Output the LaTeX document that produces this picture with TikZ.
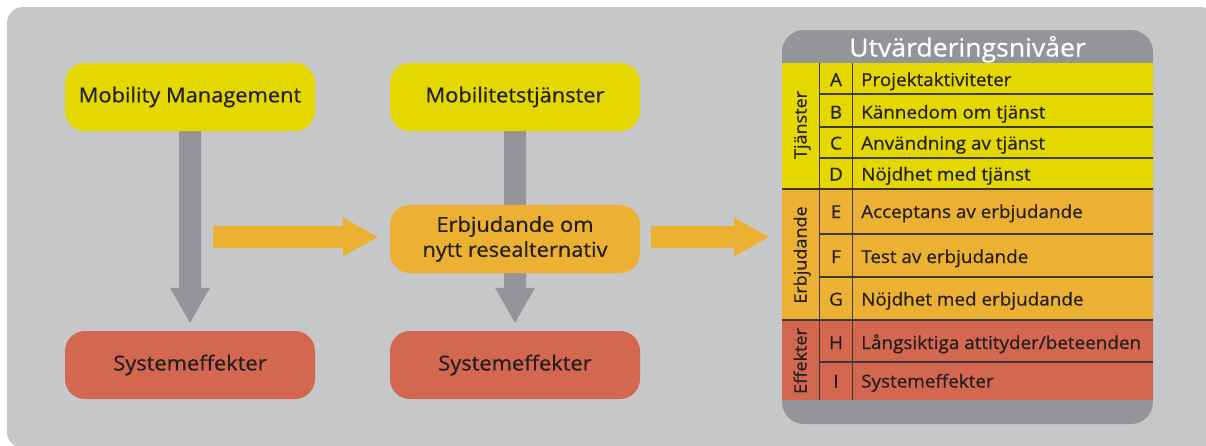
\documentclass[tikz,border=0pt]{standalone}
\usepackage{fontspec}
\setmainfont{Open Sans}[FakeStretch=1.06, FakeBold=0.6]
\usetikzlibrary{calc}
\definecolor{bggray}{HTML}{C6C7C9}
\definecolor{argray}{HTML}{939598}
\definecolor{yelc}{HTML}{E5D700}
\definecolor{orac}{HTML}{ECB032}
\definecolor{redc}{HTML}{D3674F}
\definecolor{ink}{HTML}{231F20}
\definecolor{rulec}{HTML}{3C3A36}
\pgfdeclarelayer{bg}
\pgfsetlayers{bg,main}
% vertical block arrow: colour, start, tip
\newcommand\vblockarrow[3]{%
  \fill[#1] ($(#2)+(-11,0)$) -- ($(#2)+(11,0)$) -- ($(#3)+(11,-35)$) -- ($(#3)+(20,-35)$)
    -- (#3) -- ($(#3)+(-20,-35)$) -- ($(#3)+(-11,-35)$) -- cycle;}
% horizontal block arrow: colour, start, tip
\newcommand\hblockarrow[3]{%
  \fill[#1] ($(#2)+(0,-11)$) -- ($(#3)+(-35,-11)$) -- ($(#3)+(-35,-19.5)$) -- (#3)
    -- ($(#3)+(-35,19.5)$) -- ($(#3)+(-35,11)$) -- ($(#2)+(0,11)$) -- cycle;}
\begin{document}
\begin{tikzpicture}[x=1pt,y=-1pt,
  box/.style={rounded corners=20pt, minimum width=250pt, minimum height=68pt,
    inner sep=0pt, text=ink, font=\fontsize{20.6}{25}\selectfont, align=center},
  rowtext/.style={text=ink, font=\fontsize{17.8}{20}\selectfont, inner sep=0pt},
  grouptext/.style={text=ink, font=\fontsize{17}{20}\selectfont, inner sep=0pt, rotate=90, anchor=base},
  rowrule/.style={draw=rulec, line width=1.1pt},
  headtext/.style={text=white, font=\fontsize{25.1}{28}\selectfont, inner sep=0pt, anchor=base}]
\useasboundingbox (0,0) rectangle (1206,445);
\begin{pgfonlayer}{bg}
  \fill[bggray, rounded corners=16pt] (7,7) rectangle (1216,448);
\end{pgfonlayer}

% boxes
\node[box, fill=yelc] (mm) at (190,97) {Mobility Management};
\node[box, fill=yelc] (mob) at (515,97) {Mobilitetstjänster};
\node[box, fill=orac] (erb) at (515,239) {Erbjudande om\\nytt resealternativ};
\node[box, fill=redc] (se1) at (190,365) {Systemeffekter};
\node[box, fill=redc] (se2) at (515,365) {Systemeffekter};

% gray arrows (behind boxes)
\coordinate (t1) at ([yshift=8pt]se1.north);
\coordinate (t2) at ([yshift=8pt]se2.north);
\begin{pgfonlayer}{bg}
  \vblockarrow{argray}{mm.south}{t1}
  \vblockarrow{argray}{mob.south}{t2}
\end{pgfonlayer}

% orange arrows
\coordinate (oa) at (213,237);
\coordinate (oatip) at ([xshift=-12pt,yshift=2pt]erb.west);
\hblockarrow{orac}{oa}{oatip}
\coordinate (obstart) at ([xshift=11pt,yshift=2pt]erb.east);
\coordinate (tab) at (769,237);
\hblockarrow{orac}{obstart}{tab}

% table
\fill[argray, rounded corners=22pt] (782,30) rectangle (1153,424);
\fill[yelc] (782,63) rectangle (1153,189);
\fill[orac] (782,189) rectangle (1153,320);
\fill[redc] (782,320) rectangle (1153,400);
\node[headtext] (head) at (967.5,56.5) {Utvärderingsnivåer};

\draw[rowrule] (819.5,63) -- (819.5,400);
\draw[rowrule] (852.5,63) -- (852.5,400);
\draw[rowrule] (782,189) -- (1153,189);
\draw[rowrule] (782,320) -- (1153,320);
\foreach \yy in {94,127,158,234,277,362}{
  \draw[rowrule] (819.5,\yy) -- (1153,\yy);
}

\node[grouptext] (g1) at (806.5,125) {Tjänster};
\node[grouptext] (g2) at (806.5,255) {Erbjudande};
\node[grouptext] (g3) at (806.5,361) {Effekter};

\foreach \lt/\tx/\yb [count=\i] in {
  A/{Projektaktiviteter}/86,
  B/{Kännedom om tjänst}/118.5,
  C/{Användning av tjänst}/149.5,
  D/{Nöjdhet med tjänst}/180.5,
  E/{Acceptans av erbjudande}/218,
  F/{Test av erbjudande}/263,
  G/{Nöjdhet med erbjudande}/305.5,
  H/{Långsiktiga attityder/beteenden}/349,
  I/{Systemeffekter}/387.5}{
  \node[rowtext, anchor=base] (l\i) at (836,\yb) {\lt};
  \node[rowtext, anchor=base west] (r\i) at (861,\yb) {\tx};
}
\end{tikzpicture}
\end{document}
